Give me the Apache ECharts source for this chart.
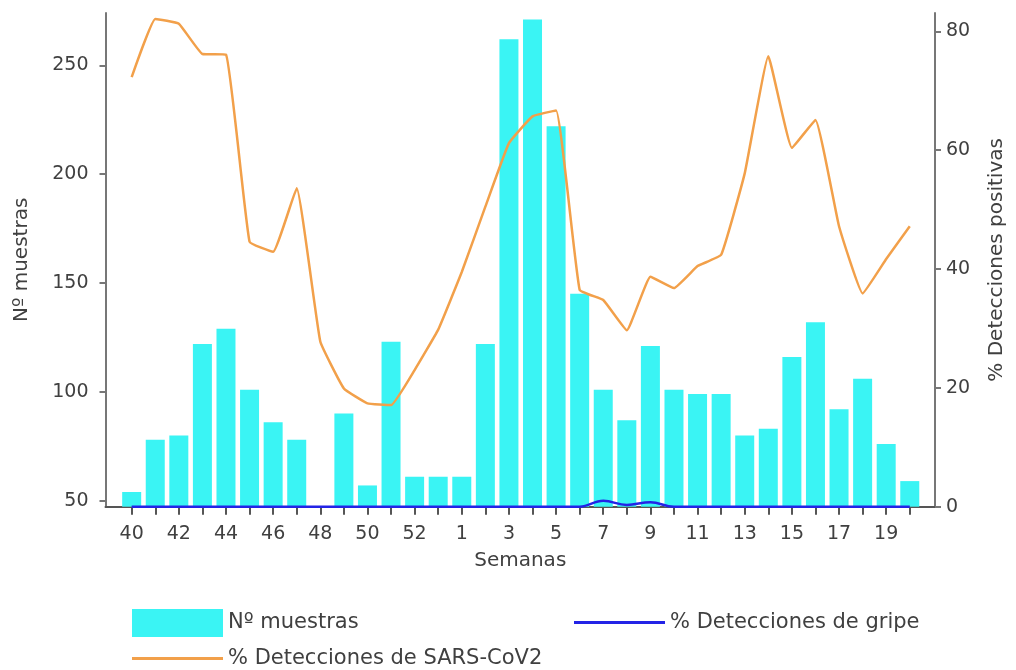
<!DOCTYPE html>
<html>
<head>
<meta charset="utf-8">
<script src="https://cdn.jsdelivr.net/npm/echarts@6/dist/echarts.min.js"></script>
<style>html,body{margin:0;padding:0;background:#fff;}#c{width:1016px;height:670px;}</style>
</head>
<body>
<div id="c"></div>
<script>
const weeks = ['40','41','42','43','44','45','46','47','48','49','50','51','52','53','1','2','3','4','5','6','7','8','9','10','11','12','13','14','15','16','17','18','19','20'];
const muestras = [54,78,80,122,129,101,86,78,null,90,57,123,61,61,61,122,262,271,222,145,101,87,121,101,99,99,80,83,116,132,92,106,76,59];
const sarsCov2 = [72.3,82.1,81.3,76.2,76.1,44.6,42.9,53.6,27.8,19.9,17.4,17.1,23.0,29.8,39.5,50.5,61.2,65.7,66.7,36.5,34.8,29.7,38.7,36.8,40.5,42.4,56.1,75.8,60.4,65.1,47.2,35.9,41.7,47.2];
const gripe = [0,0,0,0,0,0,0,0,0,0,0,0,0,0,0,0,0,0,0,0,1.0,0.3,0.75,0,0,0,0,0,0,0,0,0,0,0];
const leftTicks = [50,100,150,200,250];
const rightTicks = [0,20,40,60,80];

const idx = weeks.map((w,i)=>i);
const labelIdx = idx.filter(i=>i%2===0);
const FONT = 'DejaVu Sans';
const TXT = '#404040';

const chart = echarts.init(document.getElementById('c'), null, {renderer:'canvas'});
chart.setOption({
  animation:false,
  textStyle:{fontFamily:FONT},
  grid:{left:105.5, right:81, top:13, bottom:163.3, containLabel:false},
  xAxis:{
    type:'value', min:-1.11, max:34.07,
    name:'Semanas', nameLocation:'middle', nameGap:44,
    nameTextStyle:{fontFamily:FONT, fontSize:20, color:TXT},
    axisLine:{show:true, onZero:false, lineStyle:{color:'#555', width:2}},
    axisTick:{show:true, customValues:idx, length:8, lineStyle:{color:'#555', width:2}},
    axisLabel:{customValues:labelIdx, formatter:(v)=>weeks[Math.round(v)], fontFamily:FONT, fontSize:19, color:TXT, margin:18},
    splitLine:{show:false}
  },
  yAxis:[{
    type:'value', min:47.24, max:274, position:'left',
    name:'Nº muestras', nameLocation:'middle', nameGap:74, nameRotate:90,
    nameTextStyle:{fontFamily:FONT, fontSize:20, color:TXT},
    axisLine:{show:true, onZero:false, lineStyle:{color:'#777', width:2}},
    axisTick:{show:true, customValues:leftTicks, length:6, lineStyle:{color:'#777', width:2}},
    axisLabel:{customValues:leftTicks, fontFamily:FONT, fontSize:19, color:TXT, margin:17},
    splitLine:{show:false}
  },{
    type:'value', min:0, max:83.1, position:'right',
    name:'% Detecciones positivas', nameLocation:'middle', nameGap:52, nameRotate:90,
    nameTextStyle:{fontFamily:FONT, fontSize:20, color:TXT},
    axisLine:{show:true, onZero:false, lineStyle:{color:'#777', width:2}},
    axisTick:{show:true, customValues:rightTicks, length:6, lineStyle:{color:'#777', width:2}},
    axisLabel:{customValues:rightTicks, fontFamily:FONT, fontSize:19, color:TXT, margin:11},
    splitLine:{show:false}
  }],
  legend:[{
    data:[{name:'Nº muestras', icon:'rect'}], left:127, top:604, itemWidth:91, itemHeight:28,
    textStyle:{fontFamily:FONT, fontSize:21, color:TXT}
  },{
    data:[{name:'% Detecciones de gripe', icon:'rect'}], left:569, top:607, itemWidth:91, itemHeight:3,
    textStyle:{fontFamily:FONT, fontSize:21, color:TXT}
  },{
    data:[{name:'% Detecciones de SARS-CoV2', icon:'rect'}], left:127, top:643, itemWidth:91, itemHeight:3,
    textStyle:{fontFamily:FONT, fontSize:21, color:TXT}
  }],
  series:[{
    name:'Nº muestras', type:'bar', xAxisIndex:0, yAxisIndex:0, barWidth:19,
    itemStyle:{color:'#3AF4F4'},
    data: muestras.map((v,i)=>[i,v])
  },{
    name:'% Detecciones de SARS-CoV2', type:'line', yAxisIndex:1, smooth:0.1,
    showSymbol:false, symbol:'none',
    lineStyle:{color:'#F2A04A', width:2.5}, itemStyle:{color:'#F2A04A'},
    data: sarsCov2.map((v,i)=>[i,v])
  },{
    name:'% Detecciones de gripe', type:'line', yAxisIndex:1, smooth:0.4,
    showSymbol:false, symbol:'none',
    lineStyle:{color:'#2323E6', width:2.5}, itemStyle:{color:'#2323E6'},
    data: gripe.map((v,i)=>[i,v])
  }]
});
</script>
</body>
</html>
